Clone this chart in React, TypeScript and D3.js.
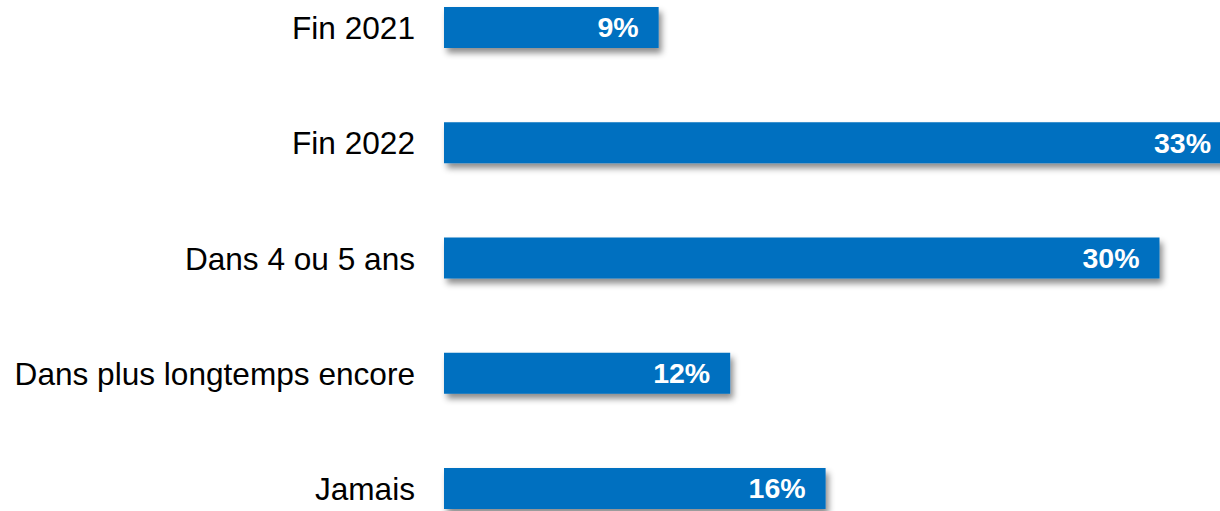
import { useEffect, useRef } from 'react'
import * as d3 from 'd3'

const categories = ['Fin 2021', 'Fin 2022', 'Dans 4 ou 5 ans', 'Dans plus longtemps encore', 'Jamais']
const values = [9, 33, 30, 12, 16]
const valueLabels = ['9%', '33%', '30%', '12%', '16%']

export default function App() {
  const ref = useRef<SVGSVGElement | null>(null)

  useEffect(() => {
    const el = ref.current
    if (!el) return
    const svg = d3.select(el)
    svg.selectAll('*').remove()

    const x0 = 444
    const barH = 41

    const x = d3.scaleLinear().domain([0, 100]).range([x0, x0 + 2385])
    const y = d3.scalePoint<string>().domain(categories).range([27.5, 488.5])

    const f = svg.append('defs').append('filter').attr('id', 'shadow')
      .attr('x', '-5%').attr('y', '-20%').attr('width', '115%').attr('height', '160%')
    f.append('feDropShadow')
      .attr('dx', 3).attr('dy', 5).attr('stdDeviation', 3)
      .attr('flood-color', '#000').attr('flood-opacity', 0.45)

    const data = categories.map((c, i) => ({ c, v: values[i], label: valueLabels[i] }))

    svg.selectAll('rect.bar').data(data).join('rect')
      .attr('class', 'bar')
      .attr('x', x(0))
      .attr('y', d => (y(d.c) ?? 0) - barH / 2)
      .attr('width', d => x(d.v) - x(0))
      .attr('height', barH)
      .attr('fill', '#0070C0')
      .attr('filter', 'url(#shadow)')

    svg.selectAll('text.cat').data(data).join('text')
      .attr('class', 'cat')
      .attr('x', x0 - 29)
      .attr('y', d => (y(d.c) ?? 0) + 0.5)
      .attr('dy', '0.35em')
      .attr('text-anchor', 'end')
      .attr('font-family', 'Liberation Sans, Arial, sans-serif')
      .attr('font-size', 31.6)
      .attr('fill', '#000')
      .text(d => d.c)

    svg.selectAll('text.val').data(data).join('text')
      .attr('class', 'val')
      .attr('x', d => x(d.v) - 20)
      .attr('y', d => y(d.c) ?? 0)
      .attr('dy', '0.35em')
      .attr('text-anchor', 'end')
      .attr('font-family', 'Liberation Sans, Arial, sans-serif')
      .attr('font-weight', 'bold')
      .attr('font-size', 28.5)
      .attr('fill', '#fff')
      .text(d => d.label)
  }, [])

  return (
    <svg
      ref={ref}
      width={1220}
      height={511}
      style={{ position: 'absolute', left: 0, top: 0, background: '#fff' }}
    />
  )
}
